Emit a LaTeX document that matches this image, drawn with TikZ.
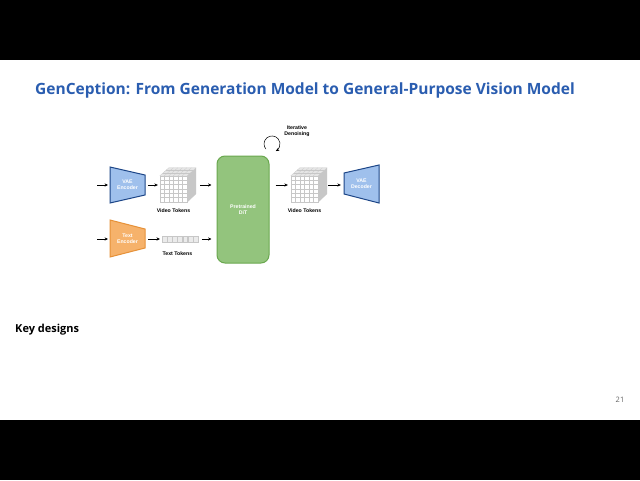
\documentclass[tikz,border=0pt]{standalone}
\usepackage{fontspec}
\setmainfont{Liberation Sans}
\newfontfamily\titlefont{Open Sans}
\usetikzlibrary{positioning,calc,arrows.meta}
\definecolor{titleblue}{HTML}{2A5DB0}
\definecolor{vaefill}{HTML}{9FC0EC}
\definecolor{vaeline}{HTML}{1C4587}
\definecolor{txtfill}{HTML}{F6B26B}
\definecolor{txtline}{HTML}{E69138}
\definecolor{ditfill}{HTML}{93C47D}
\definecolor{ditline}{HTML}{6AA84F}

\begin{document}
\begin{tikzpicture}[x=1pt,y=-1pt,
    arr/.style={-{Stealth[length=3.4pt,width=3.2pt]},line width=0.6pt},
    lbl/.style={font=\fontsize{5.2}{5.8}\selectfont\bfseries,align=center,inner sep=0pt},
    inlbl/.style={lbl,text=white},
    vaeshape/.style={fill=vaefill,draw=vaeline,line width=1pt,line join=miter},
    txtshape/.style={fill=txtfill,draw=txtline,line width=1pt},
    gridline/.style={draw=black!22,line width=0.25pt},
    cubefront/.style={minimum width=27pt,minimum height=26pt,inner sep=0pt,fill=white},
    tokcell/.style={minimum width=4.9pt,minimum height=6pt,inner sep=0pt,fill=black!8,draw=black!22,line width=0.25pt}]

    % slide frame
    \fill[white] (0,0) rectangle (640,480);
    \fill[black] (0,0) rectangle (640,60);
    \fill[black] (0,420) rectangle (640,480);
    \useasboundingbox (0,0) rectangle (640,480);

    % title
    \node[anchor=west,inner sep=0pt,text=titleblue,font=\titlefont\bfseries\fontsize{15.5}{17}\selectfont] (title) at (35,90)
        {GenCeption: From Generation Model to General-Purpose Vision Model};

    % VAE Encoder
    \filldraw[vaeshape] (110,167) -- (145,175) -- (145,195) -- (110,203) -- cycle;
    \node[inlbl,minimum width=35pt,minimum height=36pt] (vaeenc) at (127.5,185) {VAE\\Encoder};

    % Text Encoder
    \filldraw[txtshape] (110,220) -- (145,229) -- (145,248) -- (110,257) -- cycle;
    \node[inlbl,minimum width=35pt,minimum height=37pt] (txtenc) at (127.5,238.5) {Text\\Encoder};

    % Video tokens (in / out)
    \node[cubefront] (vcubein) at (173.5,189) {};
    \node[cubefront] (vcubeout) at (304.5,189) {};
    \foreach \c in {vcubein,vcubeout} {
        \fill[black!10] (\c.north west) -- ++(9,-8) -- ++(27,0) -- (\c.north east) -- cycle;
        \fill[black!22] (\c.north east) -- ++(9,-8) -- ++(0,26) -- (\c.south east) -- cycle;
        \foreach \i in {1,...,5} {
            \draw[gridline] ($(\c.north west)+(\i*4.5,0)$) -- ++(0,26);
            \draw[gridline] ($(\c.north west)+(0,\i*26/6)$) -- ++(27,0);
            \draw[gridline] ($(\c.north west)+(\i*4.5,0)$) -- ++(9,-8);
        }
        \foreach \j in {1,2} {
            \draw[gridline] ($(\c.north west)+(\j*3,-\j*8/3)$) -- ++(27,0);
        }
        \draw[gridline] (\c.north west) rectangle (\c.south east);
        \draw[gridline] (\c.north west) -- ++(9,-8) -- ++(27,0) -- ++(0,26) -- (\c.south east);
        \draw[gridline] (\c.north east) -- ++(9,-8);
    }
    \node[lbl,below=6pt of vcubein] (vtokin) {Video Tokens};
    \node[lbl,below=6pt of vcubeout] (vtokout) {Video Tokens};

    % Text tokens
    \node[tokcell] (tok1) at (164.5,239) {};
    \foreach \k [remember=\k as \prev (initially 1)] in {2,...,7} {
        \node[tokcell,right=0pt of tok\prev] (tok\k) {};
    }
    \node[lbl,below=9pt of tok4.south west] (ttok) {Text Tokens};

    % Pretrained DiT
    \node[fill=ditfill,draw=ditline,line width=1pt,rounded corners=8pt,minimum width=52pt,minimum height=107pt,
          inlbl] (dit) at (243,209.5) {Pretrained\\DiT};

    % VAE Decoder
    \filldraw[vaeshape] (344,173) -- (379,165) -- (379,203) -- (344,194) -- cycle;
    \node[inlbl,minimum width=35pt,minimum height=36pt] (vaedec) at (361.5,184) {VAE\\Decoder};

    % inputs
    \coordinate (vidin) at (97,185);
    \coordinate (txtin) at (97,239);
    \draw[arr] (vidin) -- ++(11,0);
    \draw[arr] (txtin) -- ++(11,0);

    % connections
    \draw[arr] ($(vaeenc.east |- vidin)+(3,0)$) -- ($(vcubein.west |- vidin)+(-2,0)$);
    \draw[arr] ($(txtenc.east |- txtin)+(3,0)$) -- ($(tok1.west |- txtin)+(-2,0)$);
    \draw[arr] ($(vcubein.east |- vidin)+(13,0)$) -- ($(dit.west |- vidin)+(-5,0)$);
    \draw[arr] ($(tok7.east |- txtin)+(4,0)$) -- ($(dit.west |- txtin)+(-5,0)$);
    \draw[arr] ($(dit.east |- vidin)+(6,0)$) -- ($(vcubeout.west |- vidin)+(-3,0)$);
    \draw[arr] ($(vcubeout.east |- vidin)+(10,0)$) -- ($(vaedec.west |- vidin)+(-3,0)$);

    % iterative denoising loop
    \coordinate (loopstart) at (265.9,149.1);
    \draw[arr,line width=0.5pt] (loopstart) arc[start angle=-220,end angle=62,radius=8];
    \node[lbl] (iterlbl) at (297,131) {Iterative\\Denoising};

    % footer
    \node[anchor=west,inner sep=0pt,font=\titlefont\bfseries\fontsize{11}{13}\selectfont] (keyd) at (15,330) {Key designs};
    \node[inner sep=0pt,text=black!60,font=\titlefont\fontsize{7.5}{9}\selectfont] (pagenum) at (620,400) {21};
\end{tikzpicture}
\end{document}
